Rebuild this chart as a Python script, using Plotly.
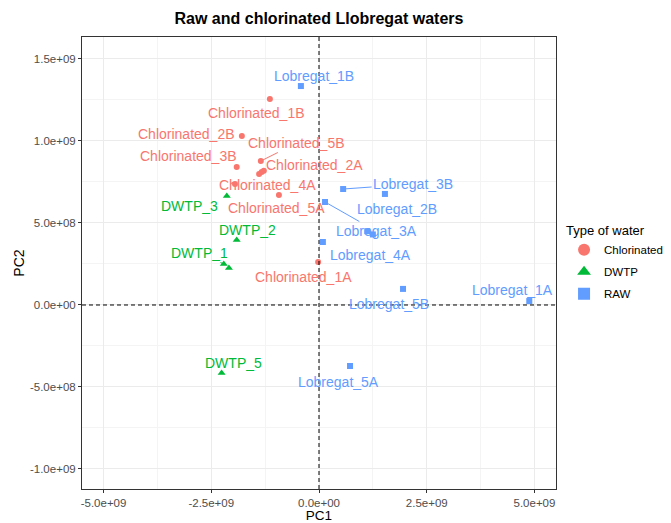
import plotly.graph_objects as go

# ---- data ----
chl_names = ["Chlorinated_1A", "Chlorinated_1B", "Chlorinated_2A", "Chlorinated_2B", "Chlorinated_3A",
             "Chlorinated_3B", "Chlorinated_4A", "Chlorinated_4B", "Chlorinated_5A", "Chlorinated_5B"]
chl_pc1 = [-0.02e9, -1.14e9, -1.33e9, -1.79e9, -1.39e9, -1.91e9, -1.95e9, -1.28e9, -0.93e9, -1.35e9]
chl_pc2 = [0.262e9, 1.256e9, 0.811e9, 1.03e9, 0.798e9, 0.841e9, 0.738e9, 0.818e9, 0.67e9, 0.878e9]

dwtp_names = ["DWTP_1", "DWTP_2", "DWTP_3", "DWTP_4", "DWTP_5"]
dwtp_pc1 = [-2.21e9, -1.91e9, -2.14e9, -2.09e9, -2.26e9]
dwtp_pc2 = [0.25e9, 0.396e9, 0.665e9, 0.225e9, -0.415e9]

raw_names = ["Lobregat_1A", "Lobregat_1B", "Lobregat_2A", "Lobregat_2B", "Lobregat_3A",
             "Lobregat_3B", "Lobregat_4A", "Lobregat_4B", "Lobregat_5A", "Lobregat_5B"]
raw_pc1 = [4.88e9, -0.42e9, 1.12e9, 1.53e9, 0.14e9, 0.56e9, 0.09e9, 1.25e9, 0.72e9, 1.95e9]
raw_pc2 = [0.024e9, 1.335e9, 0.45e9, 0.677e9, 0.628e9, 0.707e9, 0.384e9, 0.43e9, -0.372e9, 0.098e9]

x_ticks = [-5.0e9, -2.5e9, 0.0, 2.5e9, 5.0e9]
x_tick_labels = ["-5.0e+09", "-2.5e+09", "0.0e+00", "2.5e+09", "5.0e+09"]
y_ticks = [-1.0e9, -5.0e8, 0.0, 5.0e8, 1.0e9, 1.5e9]
y_tick_labels = ["-1.0e+09", "-5.0e+08", "0.0e+00", "5.0e+08", "1.0e+09", "1.5e+09"]

# ---- styling / label placement (pixel offsets, dx right, dy down; seg = draw segment) ----
label_pos = {
    "Chlorinated_1A": (-15, 15, False), "Chlorinated_1B": (-13, 14, False),
    "Chlorinated_2A": (53, -7, False), "Chlorinated_2B": (-55, -2, False),
    "Chlorinated_3B": (-48, -11, False), "Chlorinated_4A": (33, 1, False),
    "Chlorinated_5A": (-2, 13, False), "Chlorinated_5B": (36, -18, True),
    "DWTP_1": (-24, -11, True), "DWTP_2": (11, -10, False),
    "DWTP_3": (-37, 10, False), "DWTP_5": (12, -10, False),
    "Lobregat_1A": (-17, -11, True), "Lobregat_1B": (13, -10, False),
    "Lobregat_2B": (12, 15, False), "Lobregat_3A": (51, 29, True),
    "Lobregat_3B": (70, -5, True), "Lobregat_4A": (48, 13, False),
    "Lobregat_5A": (-12, 16, False), "Lobregat_5B": (-14, 15, False),
}

groups = [
    ("Chlorinated", chl_names, chl_pc1, chl_pc2, "#F8766D", "circle", 6),
    ("DWTP", dwtp_names, dwtp_pc1, dwtp_pc2, "#00BA38", "triangle-up", 7),
    ("RAW", raw_names, raw_pc1, raw_pc2, "#619CFF", "square", 6),
]

FONT = "Liberation Sans, Arial, sans-serif"
LABEL_SIZE = 14
fig = go.Figure()
annotations = []
for gname, names, xs, ys, col, sym, sz in groups:
    fig.add_trace(go.Scatter(
        x=xs, y=ys, mode="markers", name=gname, text=names, legendgroup=gname,
        marker=dict(color=col, symbol=sym, size=sz, line=dict(width=0)),
    ))
    for n, xv, yv in zip(names, xs, ys):
        if n not in label_pos:
            continue
        dx, dy, seg = label_pos[n]
        if seg:
            annotations.append(dict(
                x=xv, y=yv, xref="x", yref="y", text=n, showarrow=True,
                ax=dx, ay=dy, arrowhead=0, arrowwidth=1, arrowcolor=col, standoff=2,
                font=dict(family=FONT, size=LABEL_SIZE, color=col),
            ))
        else:
            annotations.append(dict(
                x=xv, y=yv, xref="x", yref="y", text=n, showarrow=False,
                xshift=dx, yshift=-dy,
                font=dict(family=FONT, size=LABEL_SIZE, color=col),
            ))

fig.add_hline(y=0, line=dict(color="black", width=1, dash="4px,3px"))
fig.add_vline(x=0, line=dict(color="black", width=1, dash="4px,3px"))

axis_common = dict(
    showline=True, linecolor="#333333", linewidth=1, mirror=True,
    ticks="outside", ticklen=3, tickcolor="#333333",
    tickfont=dict(family=FONT, size=11.5, color="#4D4D4D"),
    showgrid=True, gridcolor="#EBEBEB", gridwidth=1, zeroline=False,
    automargin=False,
)
# page body has an 8px margin, so the figure is offset by 8px
fig.update_layout(
    width=663, height=515,
    margin=dict(l=74, r=115, t=29, b=34, autoexpand=False),
    paper_bgcolor="white", plot_bgcolor="white",
    font=dict(family=FONT, color="black"),
    title=dict(text="<b>Raw and chlorinated Llobregat waters</b>", x=0.5, xref="paper",
               y=1 - 10 / 515, yanchor="middle", xanchor="center",
               font=dict(family=FONT, size=16, color="black")),
    xaxis=dict(range=[-5.5e9, 5.5e9], tickvals=x_ticks, ticktext=x_tick_labels,
               title=dict(text="PC1", font=dict(family=FONT, size=13.5), standoff=6),
               minor=dict(showgrid=True, gridcolor="#F4F4F4", gridwidth=1, tick0=0, dtick=1.25e9),
               **axis_common),
    yaxis=dict(range=[-1.122e9, 1.634e9], tickvals=y_ticks, ticktext=y_tick_labels,
               title=dict(text="PC2", font=dict(family=FONT, size=14), standoff=2),
               minor=dict(showgrid=True, gridcolor="#F4F4F4", gridwidth=1, tick0=0, dtick=2.5e8),
               **axis_common),
    legend=dict(title=dict(text="Type of water", font=dict(family=FONT, size=13)),
                font=dict(family=FONT, size=11.5), x=1.017, y=0.599, yanchor="top", xanchor="left",
                itemsizing="constant", tracegroupgap=3),
    annotations=annotations,
    showlegend=True,
)
fig.write_html("out.html")
